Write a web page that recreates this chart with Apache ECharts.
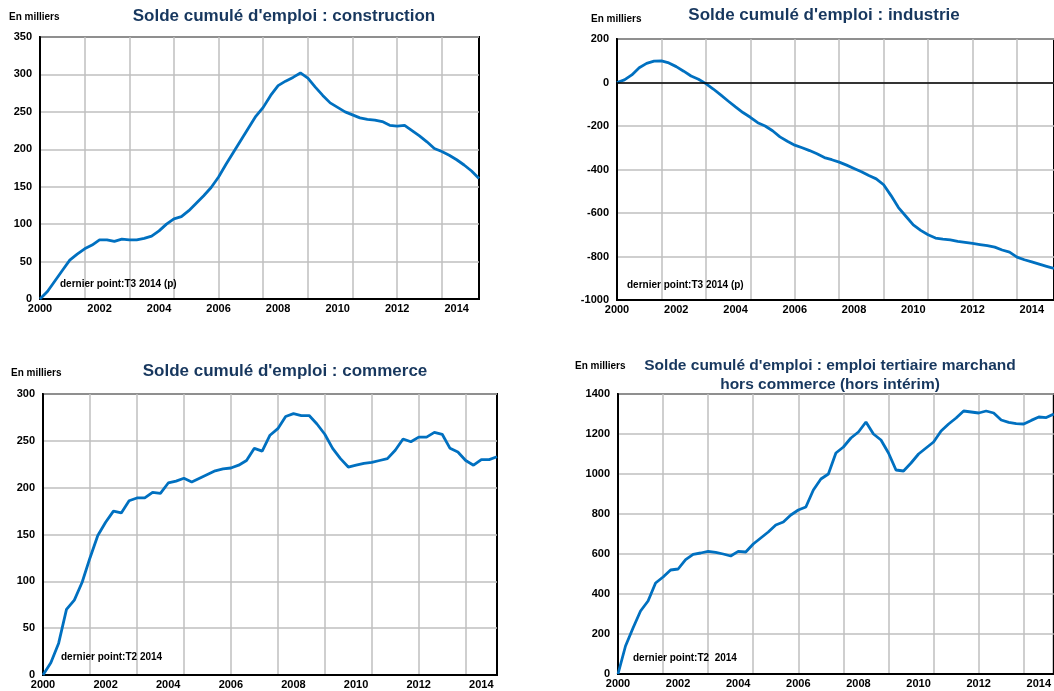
<!DOCTYPE html>
<html>
<head>
<meta charset="utf-8">
<script src="https://cdn.jsdelivr.net/npm/echarts@6/dist/echarts.min.js"></script>
<style>
  html, body { margin: 0; padding: 0; background: #fff; }
  #chart { width: 1054px; height: 691px; }
</style>
</head>
<body>
<div id="chart"></div>
<script>
// quarterly points, first point = base 0 (T4 1999)
var constructionValues = [0, 10, 24, 38, 52, 60, 67, 72, 79, 79, 77, 80, 79, 79, 81, 84, 91, 100, 107, 110,
  118, 128, 138, 149, 163, 180, 196, 212, 228, 244, 256, 272, 285, 291, 296, 302, 295, 283, 272, 262,
  256, 250, 246, 242, 240, 239, 237, 232, 231, 232, 225, 218, 210, 201, 197, 192, 186, 179, 171, 161];

var industrieValues = [0, 12, 35, 68, 88, 98, 99, 90, 73, 52, 30, 15, -5, -30, -57, -85, -112, -138, -160, -185,
  -200, -222, -250, -270, -288, -300, -313, -328, -345, -355, -366, -380, -395, -410, -428, -443, -470, -520, -575, -615,
  -655, -680, -700, -715, -720, -724, -730, -735, -740, -745, -750, -757, -770, -780, -803, -815, -825, -835, -845, -855];

var commerceValues = [0, 13, 34, 70, 80, 99, 125, 149, 163, 175, 173, 186, 189, 189, 195, 194, 205, 207, 210, 206,
  210, 214, 218, 220, 221, 224, 229, 242, 239, 256, 263, 276, 279, 277, 277, 268, 257, 242, 231, 222,
  224, 226, 227, 229, 231, 240, 252, 249, 254, 254, 259, 257, 242, 238, 229, 224, 230, 230, 233];

var tertiaireValues = [0, 140, 230, 315, 365, 455, 485, 520, 525, 572, 598, 605, 613, 608, 600, 590, 613, 610, 650, 680,
  710, 745, 760, 795, 820, 835, 920, 975, 1000, 1105, 1135, 1180, 1210, 1260, 1200, 1170, 1105, 1020, 1015, 1055,
  1100, 1130, 1160, 1215, 1250, 1280, 1315, 1310, 1305, 1315, 1305, 1270, 1258, 1252, 1250, 1268, 1285, 1282, 1300];

var yearLabels = ["2000", "2002", "2004", "2006", "2008", "2010", "2012", "2014"];

// quarter names T4 1999 .. T3 2014
var quarters = [];
for (var y = 1999, q = 4; quarters.length < 60; ) {
  quarters.push("T" + q + " " + y);
  q++;
  if (q > 4) { q = 1; y++; }
}

var FONT = "'Liberation Sans', Arial, sans-serif";
var NAVY = "#17375E";
var BLUE = "#0070C0";
var GRIDC = "#BFBFBF";

var chartDom = document.getElementById("chart");
var myChart = echarts.init(chartDom);

var panels = [
  { grid: { left: 40, top: 37, width: 439, height: 262 }, values: constructionValues, min: 0, max: 350, step: 50 },
  { grid: { left: 617, top: 39, width: 439, height: 261 }, values: industrieValues, min: -1000, max: 200, step: 200, zero: true },
  { grid: { left: 43, top: 394, width: 454, height: 281 }, values: commerceValues, min: 0, max: 300, step: 50 },
  { grid: { left: 618, top: 394, width: 439, height: 280 }, values: tertiaireValues, min: 0, max: 1400, step: 200 }
];

var grids = [], xAxes = [], yAxes = [], series = [];
panels.forEach(function (p, i) {
  grids.push(Object.assign({ show: true, borderColor: "#000", borderWidth: 2, backgroundColor: "#fff" }, p.grid));
  xAxes.push({
    type: "category",
    gridIndex: i,
    boundaryGap: false,
    data: quarters.slice(0, p.values.length),
    axisLine: { onZero: false, lineStyle: { color: "#000", width: 2 } },
    axisTick: { show: false },
    axisLabel: {
      interval: 7,
      margin: 4,
      color: "#000",
      fontFamily: FONT,
      fontWeight: "bold",
      fontSize: 11,
      formatter: function (value, index) {
        return yearLabels[index / 8] || "";
      }
    },
    splitLine: { show: true, interval: 5, lineStyle: { color: GRIDC, width: 1.5 } }
  });
  yAxes.push({
    type: "value",
    gridIndex: i,
    min: p.min,
    max: p.max,
    interval: p.step,
    axisLine: { show: true, lineStyle: { color: "#000", width: 2 } },
    axisTick: { show: false },
    axisLabel: {
      margin: 8, color: "#000", fontFamily: FONT, fontWeight: "bold", fontSize: 11,
      formatter: function (v) { return String(v); }
    },
    splitLine: { show: true, lineStyle: { color: GRIDC, width: 1.5 } }
  });
  var s = {
    type: "line",
    xAxisIndex: i,
    yAxisIndex: i,
    data: p.values,
    showSymbol: false,
    animation: false,
    lineStyle: { color: BLUE, width: 2.8 },
    itemStyle: { color: BLUE }
  };
  if (p.zero) {
    s.markLine = {
      silent: true,
      symbol: ["none", "none"],
      animation: false,
      label: { show: false },
      lineStyle: { color: "#000", width: 1.5, type: "solid" },
      data: [{ yAxis: 0 }]
    };
  }
  series.push(s);
});

function txt(text, x, y, size, color, align) {
  return {
    type: "text",
    x: x,
    y: y,
    z: 10,
    style: {
      text: text,
      fill: color,
      font: "bold " + size + "px " + FONT,
      textAlign: align,
      textVerticalAlign: "middle"
    }
  };
}

var graphics = [
  txt("Solde cumulé d'emploi : construction", 284, 16, 17, NAVY, "center"),
  txt("Solde cumulé d'emploi : industrie", 824, 15, 17, NAVY, "center"),
  txt("Solde cumulé d'emploi : commerce", 285, 371, 17, NAVY, "center"),
  txt("Solde cumulé d'emploi : emploi tertiaire marchand", 830, 366, 15.5, NAVY, "center"),
  txt("hors commerce (hors intérim)", 830, 385, 15.5, NAVY, "center"),
  txt("En milliers", 9, 17, 10, "#000", "left"),
  txt("En milliers", 591, 19, 10, "#000", "left"),
  txt("En milliers", 11, 373, 10, "#000", "left"),
  txt("En milliers", 575, 366, 10, "#000", "left"),
  txt("dernier point:T3 2014 (p)", 60, 284, 10, "#000", "left"),
  txt("dernier point:T3 2014 (p)", 627, 285, 10, "#000", "left"),
  txt("dernier point:T2 2014", 61, 657, 10, "#000", "left"),
  txt("dernier point:T2  2014", 633, 658, 10, "#000", "left")
];

var option = {
  animation: false,
  backgroundColor: "#fff",
  grid: grids,
  xAxis: xAxes,
  yAxis: yAxes,
  series: series,
  graphic: graphics
};

option && myChart.setOption(option);
</script>
</body>
</html>
